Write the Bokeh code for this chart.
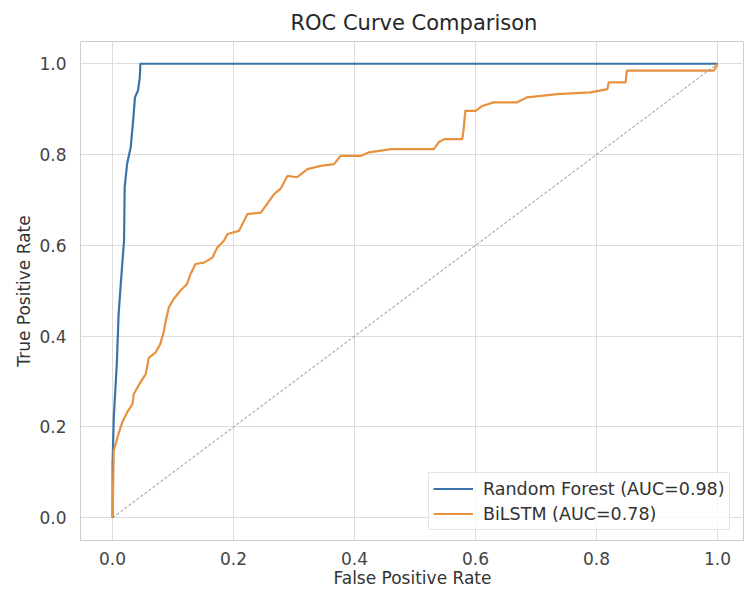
from bokeh.plotting import figure
from bokeh.models import Range1d, FixedTicker, PrintfTickFormatter, Legend, LegendItem
from bokeh.embed import file_html
from bokeh.resources import INLINE

# ---- data ----
title_text = "ROC Curve Comparison"
x_label = "False Positive Rate"
y_label = "True Positive Rate"
ticks = [0.0, 0.2, 0.4, 0.6, 0.8, 1.0]

rf_label = "Random Forest (AUC=0.98)"
rf_fpr = [0.0, 0.0, 0.002, 0.007, 0.010, 0.016, 0.019, 0.020, 0.024, 0.030,
          0.034, 0.037, 0.042, 0.045, 0.046, 1.0]
rf_tpr = [0.0, 0.119, 0.221, 0.339, 0.449, 0.559, 0.61, 0.728, 0.779, 0.816,
          0.874, 0.926, 0.941, 0.97, 1.0, 1.0]

lstm_label = "BiLSTM (AUC=0.78)"
lstm_fpr = [0.0, 0.002, 0.008, 0.016, 0.024, 0.033, 0.035, 0.044, 0.055, 0.060,
            0.071, 0.079, 0.085, 0.088, 0.093, 0.101, 0.112, 0.123, 0.129, 0.137,
            0.151, 0.165, 0.173, 0.184, 0.190, 0.209, 0.223, 0.245, 0.267, 0.278,
            0.289, 0.305, 0.322, 0.344, 0.366, 0.377, 0.410, 0.424, 0.460, 0.531,
            0.539, 0.548, 0.578, 0.580, 0.583, 0.600, 0.611, 0.630, 0.669, 0.685,
            0.735, 0.790, 0.818, 0.820, 0.848, 0.850, 0.994, 1.0]
lstm_tpr = [0.0, 0.148, 0.177, 0.210, 0.232, 0.251, 0.272, 0.294, 0.317, 0.353,
            0.364, 0.383, 0.412, 0.434, 0.463, 0.482, 0.500, 0.515, 0.537, 0.559,
            0.562, 0.573, 0.595, 0.610, 0.625, 0.632, 0.669, 0.672, 0.713, 0.725,
            0.753, 0.750, 0.768, 0.775, 0.779, 0.797, 0.797, 0.805, 0.812, 0.812,
            0.827, 0.834, 0.834, 0.852, 0.896, 0.896, 0.907, 0.915, 0.915, 0.926,
            0.933, 0.937, 0.944, 0.959, 0.959, 0.985, 0.985, 1.0]

diag_x = [0.0, 1.0]
diag_y = [0.0, 1.0]

FONT = "DejaVu Sans"

p = figure(width=744, height=591, output_backend="svg", toolbar_location=None,
           x_range=Range1d(-0.053, 1.0445), y_range=Range1d(-0.05, 1.049),
           min_border_left=80, min_border_right=0, min_border_top=41,
           min_border_bottom=51)

p.background_fill_color = "white"
p.border_fill_color = "white"
p.outline_line_color = "#cccccc"
p.outline_line_width = 1

# title
p.title.text = title_text
p.title.text_font = FONT
p.title.text_font_size = "21px"
p.title.text_font_style = "normal"
p.title.text_color = "#262626"
p.title.align = "left"
p.title.offset = 210
p.title.standoff = 14

# axes
for ax in (p.xaxis[0], p.yaxis[0]):
    ax.ticker = FixedTicker(ticks=ticks)
    ax.formatter = PrintfTickFormatter(format="%.1f")
    ax.major_tick_line_color = None
    ax.minor_tick_line_color = None
    ax.axis_line_color = None
    ax.major_label_text_font = FONT
    ax.major_label_text_font_size = "17px"
    ax.major_label_text_color = "#444444"
    ax.axis_label_text_font = FONT
    ax.axis_label_text_font_size = "17px"
    ax.axis_label_text_font_style = "normal"
    ax.axis_label_text_color = "#333333"

p.xaxis.axis_label = x_label
p.yaxis.axis_label = y_label
p.xaxis.major_label_standoff = 5
p.xaxis.axis_label_standoff = 0
p.yaxis.major_label_standoff = 8
p.yaxis.axis_label_standoff = 2

# grid
p.xgrid.ticker = FixedTicker(ticks=ticks)
p.ygrid.ticker = FixedTicker(ticks=ticks)
p.xgrid.grid_line_color = "#dddddd"
p.ygrid.grid_line_color = "#dddddd"
p.xgrid.grid_line_width = 1
p.ygrid.grid_line_width = 1

# lines
r_rf = p.line(rf_fpr, rf_tpr, line_color="#3b73a8", line_width=2.2)
r_lstm = p.line(lstm_fpr, lstm_tpr, line_color="#e8913f", line_width=2.2)
p.line(diag_x, diag_y, line_color="#888888", line_width=1, line_dash="3 2")

legend = Legend(items=[LegendItem(label=rf_label, renderers=[r_rf]),
                       LegendItem(label=lstm_label, renderers=[r_lstm])],
                location=(348, 10))
legend.label_text_font = FONT
legend.label_text_font_size = "17.5px"
legend.label_text_color = "#333333"
legend.glyph_width = 40
legend.glyph_height = 23
legend.label_height = 23
legend.label_standoff = 10
legend.padding = 4
legend.spacing = 2
legend.margin = 0
legend.border_line_color = "#cccccc"
legend.border_line_width = 1
legend.background_fill_color = "white"
legend.background_fill_alpha = 0.8
p.add_layout(legend)

open("out.html", "w").write(file_html(p, INLINE))
